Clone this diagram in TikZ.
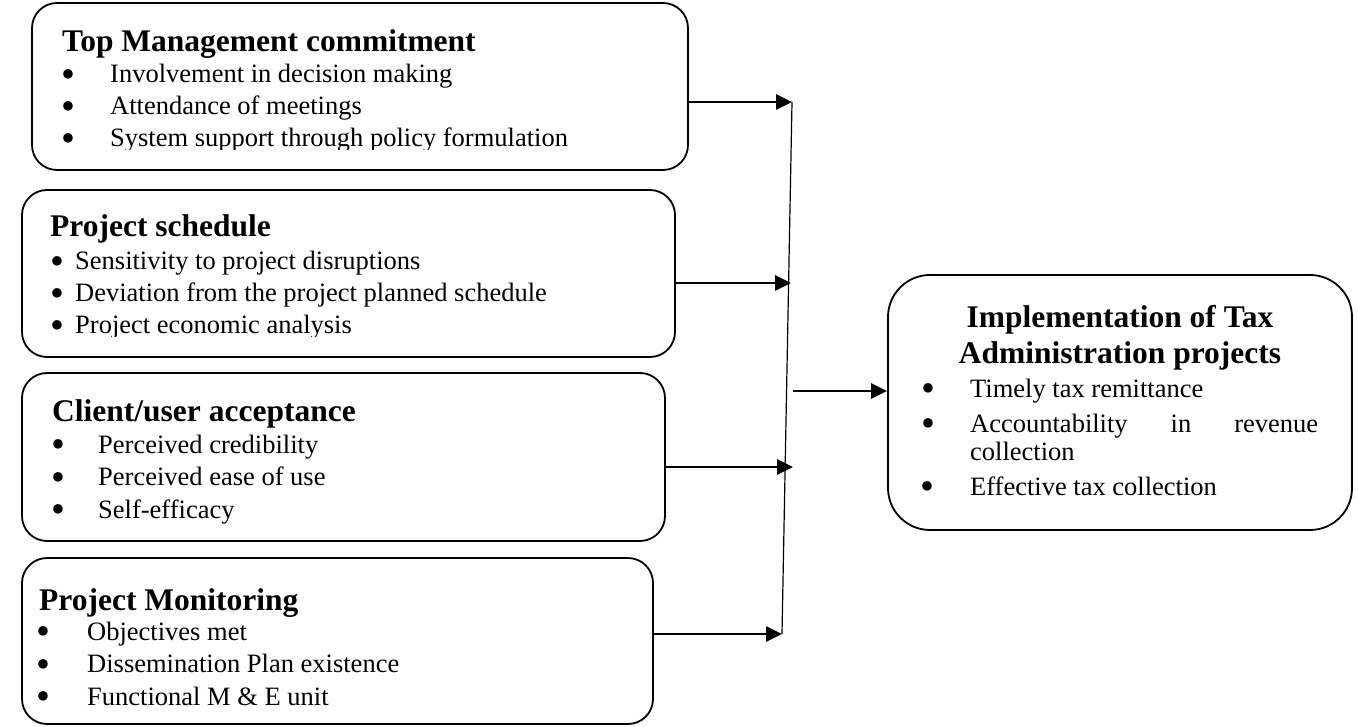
\documentclass[tikz,border=0pt]{standalone}
\usepackage{fontspec}
\setmainfont{Liberation Serif}
\usetikzlibrary{arrows.meta}

\tikzstyle{bS}=[draw, line width=1.8pt, rounded corners=25pt, inner sep=0pt]
\tikzstyle{hS}=[inner sep=0pt, anchor=base west, font=\fontsize{31.5}{35}\selectfont\bfseries]
\tikzstyle{tS}=[inner sep=0pt, anchor=base west, font=\fontsize{26.5}{32}\selectfont]
\tikzstyle{aS}=[line width=2.6pt, -{Triangle[length=16pt,width=15pt]}]
\tikzstyle{lS}=[line width=1.2pt]

\newcommand{\bitem}[2]{\makebox[#1][l]{\smash{\raisebox{-0.17em}{\scalebox{1.5}{\textbullet}}}}#2}

\begin{document}
\begin{tikzpicture}[x=1pt,y=-1pt]
        \useasboundingbox (0,0) rectangle (1358,727);
        % the five boxes
        \draw (360,86.5) node[bS, minimum width=656pt, minimum height=167pt] (tm) {};
        \draw (348.5,273.5) node[bS, minimum width=653pt, minimum height=167pt] (ps) {};
        \draw (343.5,457) node[bS, minimum width=643pt, minimum height=168pt] (ca) {};
        \draw (337.5,641) node[bS, minimum width=631pt, minimum height=166pt] (pm) {};
        \draw (1120,402.5) node[bS, rounded corners=42pt, minimum width=464pt, minimum height=255pt] (it) {};

        % headings
        \draw (62,52) node[hS] (tmH) {Top Management commitment};
        \draw (50,237) node[hS] (psH) {Project schedule};
        \draw (52,421) node[hS] (caH) {Client/user acceptance};
        \draw (39,610) node[hS] (pmH) {Project Monitoring};
        \draw (1120,328) node[hS, anchor=base] (itH1) {Implementation of Tax};
        \draw (1120,363) node[hS, anchor=base] (itH2) {Administration projects};

        % bullet lines
        \begin{scope}
                \clip (30,0) rectangle (690,150);
                \foreach \t [count=\i] in {Involvement in decision making, Attendance of meetings, System support through policy formulation}
                        \draw (61,51+32*\i) node[tS] (tm\i) {\bitem{49pt}{\t}};
        \end{scope}
        \begin{scope}
                \clip (20,180) rectangle (680,337);
                \foreach \t [count=\i] in {Sensitivity to project disruptions, Deviation from the project planned schedule, Project economic analysis}
                        \draw (50,238+32*\i) node[tS] (ps\i) {\bitem{25pt}{\t}};
        \end{scope}
        \foreach \t [count=\i] in {Perceived credibility, Perceived ease of use, Self-efficacy}
                \draw (51,420.5+32.5*\i) node[tS] (ca\i) {\bitem{47pt}{\t}};
        \foreach \t [count=\i] in {Objectives met, Dissemination Plan existence, Functional M \& E unit}
                \draw (36,607.5+32.5*\i) node[tS] (pm\i) {\bitem{51pt}{\t}};

        \draw (921,397) node[tS] (it1) {\bitem{49pt}{Timely tax remittance}};
        \draw (921,432) node[tS] (it2) {\bitem{49pt}{\makebox[348pt][s]{Accountability in revenue}}};
        \draw (970,460) node[tS] (it3) {collection};
        \draw (920,495) node[tS] (it4) {\bitem{50pt}{Effective tax collection}};

        % connectors
        \coordinate (a1) at (792,102);
        \coordinate (a2) at (791,283);
        \coordinate (a3) at (793,467);
        \coordinate (a4) at (782,634);
        \coordinate (am) at (793,391);
        \draw[lS] (a1) -- (a4);
        \draw[aS] (tm.east |- a1) -- (a1);
        \draw[aS] (ps.east |- a2) -- (a2);
        \draw[aS] (ca.east |- a3) -- (a3);
        \draw[aS] (pm.east |- a4) -- (a4);
        \draw[aS] (am) -- (it.west |- am);
\end{tikzpicture}
\end{document}
